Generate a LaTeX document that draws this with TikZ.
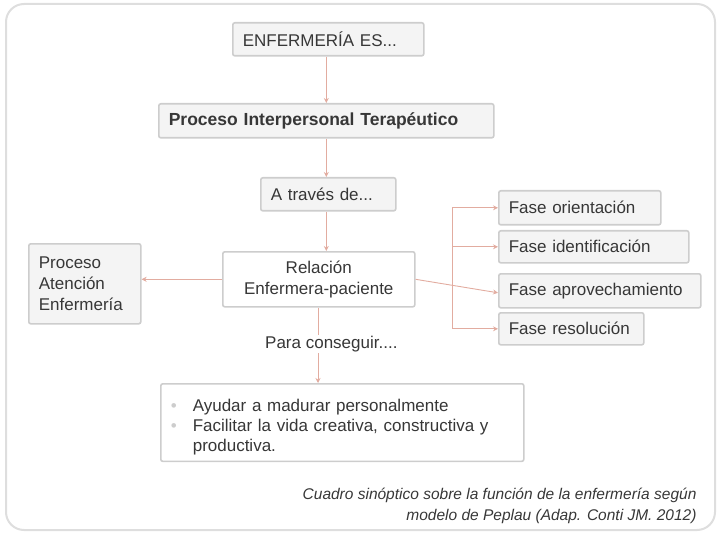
\documentclass[tikz,border=0pt]{standalone}
\usepackage{fontspec}
\setmainfont{Liberation Sans}
\usetikzlibrary{arrows.meta}
\definecolor{boxline}{RGB}{205,205,205}
\definecolor{boxfill}{RGB}{244,244,244}
\definecolor{conncol}{RGB}{226,172,160}
\definecolor{txt}{RGB}{55,55,55}
\definecolor{frame}{RGB}{222,222,222}
\tikzset{
  base/.style={draw=boxline, line width=1.6pt, rounded corners=2pt, text=txt,
    font=\fontsize{17}{21}\selectfont, inner ysep=0pt, inner xsep=10pt, anchor=north west},
  gbox/.style={base, fill=boxfill},
  wbox/.style={base, fill=white},
  conn/.style={draw=conncol, line width=0.9pt, -{Stealth[length=5pt,width=5pt]}},
  plain/.style={draw=conncol, line width=0.9pt},
}
\begin{document}
\begin{tikzpicture}[x=1pt,y=-1pt]
\useasboundingbox (0,0) rectangle (720,540);
\draw[frame, line width=2pt, rounded corners=18pt] (6,4) rectangle (715,530);

\node[gbox, minimum width=191pt, minimum height=33pt, text width=171pt, align=left] (enf) at (232,22) {ENFERMERÍA ES...};
\node[gbox, minimum width=335pt, minimum height=34pt, text width=315pt, align=left, font=\fontsize{17.5}{21}\selectfont\bfseries] (proc) at (158,103) {Proceso Interpersonal Terapéutico};
\node[gbox, minimum width=135pt, minimum height=33pt, text width=115pt, align=left] (atr) at (260,177) {A través de...};
\node[wbox, minimum width=192pt, minimum height=55pt, text width=172pt, align=center] (rel) at (222,251) {Relación\\Enfermera-paciente};
\node[gbox, minimum width=112pt, minimum height=80pt, text width=92pt, align=left, inner xsep=10pt] (pae) at (28,243) {Proceso\\Atención\\Enfermería};

\node[gbox, minimum width=162pt, minimum height=34pt, text width=142pt, align=left] (ori) at (498,190) {Fase orientación};
\node[gbox, minimum width=190pt, minimum height=32pt, text width=170pt, align=left] (ide) at (498,230) {Fase identificación};
\node[gbox, minimum width=202pt, minimum height=34pt, text width=182pt, align=left] (apr) at (498,273) {Fase aprovechamiento};
\node[gbox, minimum width=145pt, minimum height=32pt, text width=125pt, align=left] (res) at (498,312) {Fase resolución};

\node[text=txt, font=\fontsize{17}{21}\selectfont, anchor=west, fill=white, inner sep=1pt] (para) at (264,344) {Para conseguir....};

\node[wbox, minimum width=363pt, minimum height=77pt, text width=343pt, align=left, inner ysep=6pt, font=\fontsize{17}{20}\selectfont] (obj) at (160,383)
{\rule{0pt}{22pt}\makebox[22pt][l]{\color{boxline}\textbullet}Ayudar a madurar personalmente\\
\makebox[22pt][l]{\color{boxline}\textbullet}Facilitar la vida creativa, constructiva y\\
\hspace*{22pt}productiva.};

\coordinate (bx) at (452,0);
\coordinate (vx) at (318,0);
\draw[conn] (enf.south -| proc.north) -- (proc.north);
\draw[conn] (proc.south) -- (atr.north -| proc.south);
\draw[conn] (atr.south -| proc.south) -- (rel.north -| proc.south);
\draw[plain] (rel.south -| vx) -- (para.north -| vx);
\draw[conn] (para.south -| vx) -- (obj.north -| vx);
\draw[conn] (rel.west) -- (pae.east |- rel.west);
\draw[conn] (rel.east) -- ([yshift=-2pt]apr.west);
\draw[plain] (bx |- ori.west) -- (bx |- res.west);
\draw[conn] (bx |- ori.west) -- (ori.west);
\draw[conn] (bx |- ide.west) -- (ide.west);
\draw[conn] (bx |- res.west) -- (res.west);

\node[text=txt, font=\fontsize{15.5}{21}\selectfont\itshape, align=right, anchor=north east] (cap) at (700,485)
{Cuadro sinóptico sobre la función de la enfermería según\\modelo de Peplau (Adap. Conti JM. 2012)};
\end{tikzpicture}
\end{document}
